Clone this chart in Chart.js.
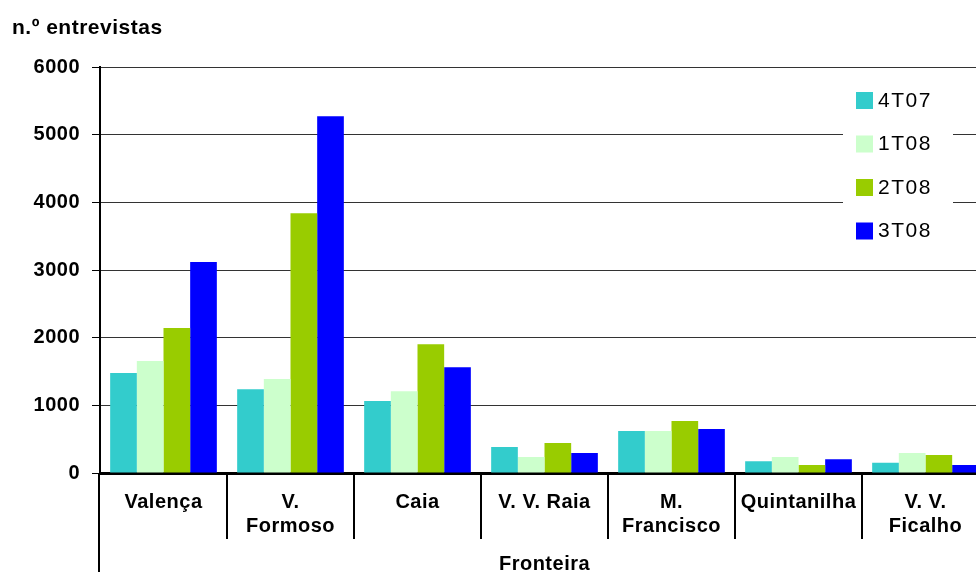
<!DOCTYPE html>
<html>
<head>
<meta charset="utf-8">
<script src="https://cdn.jsdelivr.net/npm/chart.js@4/dist/chart.umd.min.js"></script>
<style>
  html, body { margin: 0; padding: 0; background: #fff; overflow: hidden; }
  #wrap { width: 976px; height: 572px; overflow: hidden; }
  canvas { display: block; }
</style>
</head>
<body>
<div id="wrap"><canvas id="grafico" width="992" height="572"></canvas></div>
<script>
// fronteiras (nomes em várias linhas) e entrevistas por trimestre
var fronteiras = [['Valença'], ['V.', 'Formoso'], ['Caia'], ['V. V. Raia'], ['M.', 'Francisco'], ['Quintanilha'], ['V. V.', 'Ficalho']];
var trimestres = ['4T07', '1T08', '2T08', '3T08'];
var cores = ['#33CCCC', '#CCFFCC', '#99CC00', '#0000FF'];

var t4T07 = [1480, 1240, 1065, 385, 620, 175, 150];
var t1T08 = [1655, 1390, 1210, 235, 620, 235, 295];
var t2T08 = [2145, 3840, 1905, 445, 770, 120, 265];
var t3T08 = [3120, 5275, 1565, 295, 650, 205, 120];

var yTicks = [0, 1000, 2000, 3000, 4000, 5000, 6000];

var fonte = "'Liberation Sans', Arial, sans-serif";
var series = [t4T07, t1T08, t2T08, t3T08];

var datasets = [];
for (var i = 0; i < trimestres.length; i++) {
    datasets.push({
        label: trimestres[i],
        data: series[i],
        backgroundColor: cores[i],
        borderWidth: 0,
        categoryPercentage: 0.84,
        barPercentage: 1.0
    });
}

// espaçamento das letras
var espacamento = {
    id: 'espacamento',
    beforeDraw: function (chart) { chart.ctx.letterSpacing = '0.5px'; }
};

// traços entre categorias e prolongamento do eixo vertical
var separadores = {
    id: 'separadores',
    afterDraw: function (chart) {
        var ctx = chart.ctx, area = chart.chartArea;
        var n = fronteiras.length;
        var w = (area.right - area.left) / n;
        ctx.save();
        ctx.strokeStyle = '#000';
        ctx.lineWidth = 2;
        ctx.beginPath();
        for (var i = 1; i < n; i++) {
            var x = Math.round(area.left + i * w);
            ctx.moveTo(x, area.bottom);
            ctx.lineTo(x, area.bottom + 66);
        }
        ctx.moveTo(area.left - 1, area.bottom);
        ctx.lineTo(area.left - 1, chart.height);
        ctx.stroke();
        ctx.restore();
    }
};

// legenda dentro da área do gráfico, com fundo branco
var legenda = {
    id: 'legenda',
    afterDraw: function (chart) {
        var ctx = chart.ctx;
        ctx.save();
        ctx.fillStyle = '#fff';
        ctx.fillRect(843, 78, 110, 172);
        ctx.font = '21px ' + fonte;
        ctx.textBaseline = 'middle';
        ctx.letterSpacing = '1.5px';
        chart.data.datasets.forEach(function (ds, i) {
            var cy = 100 + i * 43.5;
            ctx.fillStyle = ds.backgroundColor;
            ctx.fillRect(856, cy - 8, 17, 17);
            ctx.fillStyle = '#000';
            ctx.fillText(ds.label, 878, cy + 1);
        });
        ctx.restore();
    }
};

new Chart(document.getElementById('grafico'), {
    type: 'bar',
    data: { labels: fronteiras, datasets: datasets },
    plugins: [espacamento, separadores, legenda],
    options: {
        responsive: false,
        animation: false,
        layout: { padding: { left: 12, right: 3, top: 0, bottom: 0 } },
        plugins: {
            legend: { display: false },
            tooltip: { enabled: false },
            title: {
                display: true,
                text: 'n.º entrevistas',
                align: 'start',
                color: '#000',
                font: { family: fonte, size: 21, weight: 'bold' },
                padding: { top: 16, bottom: 26 }
            }
        },
        scales: {
            x: {
                afterFit: function (scale) { scale.height = 99; },
                grid: { display: false, drawTicks: false },
                border: { display: true, color: '#000', width: 3 },
                ticks: {
                    color: '#000',
                    padding: 17,
                    maxRotation: 0,
                    autoSkip: false,
                    font: { family: fonte, size: 20, weight: 'bold' }
                },
                title: {
                    display: true,
                    text: 'Fronteira',
                    color: '#000',
                    font: { family: fonte, size: 20, weight: 'bold', lineHeight: 1 },
                    padding: { top: 0, bottom: -2 }
                }
            },
            y: {
                min: 0,
                max: 6000,
                afterFit: function (scale) { scale.width = 88; },
                afterBuildTicks: function (scale) {
                    scale.ticks = yTicks.map(function (v) { return { value: v }; });
                },
                grid: {
                    color: '#333',
                    lineWidth: 1,
                    drawTicks: true,
                    tickLength: 8,
                    tickColor: '#000'
                },
                border: { display: true, color: '#000', width: 2 },
                ticks: {
                    color: '#000',
                    padding: 12,
                    font: { family: fonte, size: 20, weight: 'bold' },
                    callback: function (v) { return String(v); }
                }
            }
        }
    }
});
</script>
</body>
</html>
